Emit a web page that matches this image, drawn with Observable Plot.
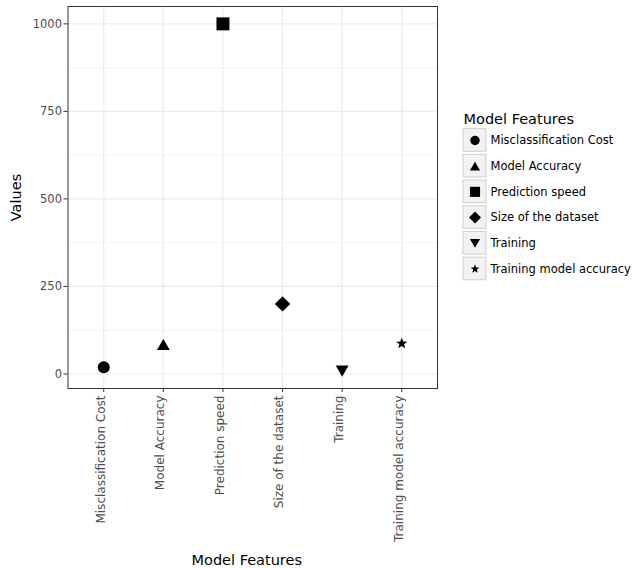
<!DOCTYPE html>
<html>
<head>
<meta charset="utf-8">
<script src="https://cdn.jsdelivr.net/npm/d3@7"></script>
<script src="https://cdn.jsdelivr.net/npm/@observablehq/plot@0.6"></script>
<style>
  body { margin: 0; background: #fff; font-family: "DejaVu Sans", sans-serif; }
  #chart { position: relative; width: 633px; height: 569px; }
  #legend { position: absolute; left: 455px; top: 105px; }
  g[aria-label$="-axis tick"] { stroke: #333333; }
  g[aria-label$="-axis tick label"] { fill: #4d4d4d; }
</style>
</head>
<body>
<div id="chart"><div id="legend"></div></div>
<script>
// Feature categories and their measured values
const features = [
  "Misclassification Cost",
  "Model Accuracy",
  "Prediction speed",
  "Size of the dataset",
  "Training",
  "Training model accuracy"
];
const values = [19, 84, 1000, 200, 8, 87];

// Axis breaks
const yTicks = [0, 250, 500, 750, 1000];
const yMinorTicks = [125, 375, 625, 875];

const rows = features.map((f, i) => ({feature: f, value: values[i]}));

// Marker shapes (size is area; r is the equivalent circle radius)
const rad = (size) => Math.sqrt(size / Math.PI);
const circle = {draw(ctx, size) { const r = rad(size); ctx.moveTo(r, 0); ctx.arc(0, 0, r, 0, 2 * Math.PI); }};
const triUp = {draw(ctx, size) {
  const r = rad(size), s = 2.15 * r, h = s * 0.866;
  ctx.moveTo(0, -h / 2); ctx.lineTo(s / 2, h / 2); ctx.lineTo(-s / 2, h / 2); ctx.closePath();
}};
const triDown = {draw(ctx, size) {
  const r = rad(size), s = 2.15 * r, h = s * 0.866;
  ctx.moveTo(0, h / 2); ctx.lineTo(s / 2, -h / 2); ctx.lineTo(-s / 2, -h / 2); ctx.closePath();
}};
const square = {draw(ctx, size) { const r = rad(size), a = 1.08 * r; ctx.rect(-a, -a, 2 * a, 2 * a); }};
const diamond = {draw(ctx, size) {
  const r = rad(size), a = 1.28 * r;
  ctx.moveTo(0, -a); ctx.lineTo(a, 0); ctx.lineTo(0, a); ctx.lineTo(-a, 0); ctx.closePath();
}};
const star = {draw(ctx, size) {
  const R = 0.98 * rad(size), ri = R * 0.42;
  for (let i = 0; i < 10; ++i) {
    const a = -Math.PI / 2 + i * Math.PI / 5, rr = i % 2 ? ri : R;
    const x = rr * Math.cos(a), y = rr * Math.sin(a);
    i ? ctx.lineTo(x, y) : ctx.moveTo(x, y);
  }
  ctx.closePath();
}};
const symbolScale = {domain: features, range: [circle, triUp, square, diamond, triDown, star]};

// Continuous y range padded by 5% on each side
const lo = d3.min(values), hi = d3.max(values), pad = 0.05 * (hi - lo);

const main = Plot.plot({
  width: 633,
  height: 569,
  marginLeft: 67.5,
  marginRight: 196,
  marginTop: 6,
  marginBottom: 181,
  style: {fontFamily: "DejaVu Sans", fontSize: "11px", background: "white", color: "#1a1a1a"},
  x: {type: "point", domain: features, padding: 0.6, round: false},
  y: {domain: [lo - pad, hi + pad]},
  symbol: symbolScale,
  marks: [
    Plot.ruleY(yMinorTicks, {stroke: "#ebebeb", strokeWidth: 0.6}),
    Plot.ruleY(yTicks, {stroke: "#ebebeb", strokeWidth: 1.1}),
    Plot.ruleX(features, {stroke: "#ebebeb", strokeWidth: 1.1}),
    Plot.frame({stroke: "#333333", strokeWidth: 1}),
    Plot.axisY({ticks: yTicks, tickFormat: d3.format("d"), tickSize: 4, tickPadding: 2, label: null, fontSize: 11.5}),
    // tick marks only
    Plot.axisX({tickSize: 4, tickFormat: () => "", label: null}),
    // rotated category labels
    Plot.axisX({tickSize: 0, tickPadding: 7, tickRotate: -90, dx: -3, label: null, fontSize: 12}),
    Plot.text(["Values"], {frameAnchor: "left", textAnchor: "middle", rotate: -90, dx: -52, fontSize: 14.5, fill: "black"}),
    Plot.text(["Model Features"], {frameAnchor: "bottom", textAnchor: "middle", dx: -6, dy: 176, fontSize: 14.5, fill: "black"}),
    Plot.dot(rows, {x: "feature", y: "value", symbol: "feature", r: 6, fill: "black", stroke: "none"})
  ]
});
document.getElementById("chart").prepend(main);

// Shape legend
const legend = Plot.plot({
  width: 178,
  height: 180,
  margin: 0,
  style: {fontFamily: "DejaVu Sans", background: "transparent", overflow: "visible"},
  x: {type: "band", domain: ["key"], range: [8, 31], padding: 0, round: false, axis: null},
  y: {type: "band", domain: features, range: [22.1, 176.3], paddingInner: 0.12, paddingOuter: 0.06, round: false, axis: null},
  symbol: symbolScale,
  marks: [
    Plot.cell(features, {x: () => "key", y: d => d, fill: "#f2f2f2", stroke: "#cfcfcf", strokeWidth: 1}),
    Plot.dot(features, {x: () => "key", y: d => d, symbol: d => d, r: 4.7, fill: "black", stroke: "none"}),
    Plot.text(features, {x: () => "key", y: d => d, text: d => d, textAnchor: "start", dx: 15.5, fontSize: 11.5, fill: "black"}),
    Plot.text(["Model Features"], {frameAnchor: "top-left", textAnchor: "start", lineAnchor: "top", dx: 8, dy: 8.5, fontSize: 14.5, fill: "black"})
  ]
});
document.getElementById("legend").append(legend);
</script>
</body>
</html>
